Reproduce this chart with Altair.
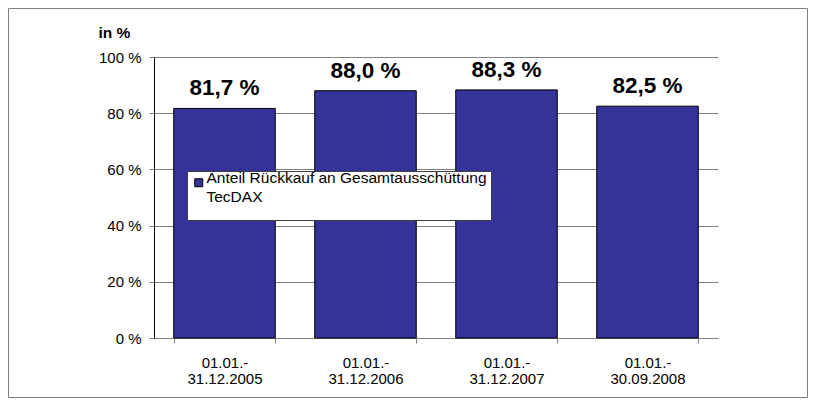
import altair as alt
import pandas as pd

# ---- data ----
period_start = ["01.01.-", "01.01.-", "01.01.-", "01.01.-"]
period_end = ["31.12.2005", "31.12.2006", "31.12.2007", "30.09.2008"]
shares = [81.7, 88.0, 88.3, 82.5]
series_name = "Anteil Rückkauf an Gesamtausschüttung|TecDAX"
y_ticks = [0, 20, 40, 60, 80, 100]

df = pd.DataFrame({
    "period": [f"{a}|{b}" for a, b in zip(period_start, period_end)],
    "share": shares,
    "series": [series_name] * len(shares),
})

FONT = "Liberation Sans"
GRAY = "#808080"
BAR = "#333399"

x = alt.X(
    "period:N", sort=None, title=None,
    scale=alt.Scale(paddingInner=0.28, paddingOuter=0.14),
    axis=alt.Axis(
        labelExpr="split(datum.label, '|')", labelAngle=0, labelFont=FONT,
        labelFontSize=15, labelColor="black", labelLineHeight=16,
        labelPadding=12, labelBaseline="top", tickBand="extent",
        tickSize=5, tickColor=GRAY, domainColor=GRAY, grid=False,
    ),
)
y = alt.Y(
    "share:Q",
    scale=alt.Scale(domain=[0, 100], nice=False),
    axis=alt.Axis(
        values=y_ticks, labelExpr="datum.value + ' %'", title="in %",
        titleAngle=0, titleAlign="left", titleBaseline="alphabetic",
        titleX=-56, titleY=-20, titleFont=FONT, titleFontSize=15.5,
        titleFontWeight="bold", titleColor="black",
        labelFont=FONT, labelFontSize=15, labelColor="black", labelPadding=8,
        tickSize=5, tickColor=GRAY, domainColor="black",
        gridColor=GRAY, gridOpacity=1, gridWidth=1,
    ),
)

bars = alt.Chart(df).mark_bar(stroke="black", strokeWidth=1).encode(
    x=x, y=y,
    color=alt.Color(
        "series:N",
        scale=alt.Scale(range=[BAR]),
        legend=alt.Legend(
            title="\u00a0", titleOrient="bottom", titleFontSize=9,
            titlePadding=2,
            orient="none", legendX=33, legendY=114,
            labelExpr="split(datum.label, '|')", labelFont=FONT,
            labelFontSize=15.5, labelBaseline="alphabetic",
            labelLimit=400, labelColor="black", symbolType="square",
            symbolSize=64, symbolStrokeColor="black", symbolStrokeWidth=1,
            symbolFillColor=BAR, fillColor="white", strokeColor="#404040",
            padding=4, labelOffset=0,
        ),
    ),
)

labels = alt.Chart(df).transform_calculate(
    label="replace(format(datum.share, '.1f'), '.', ',') + ' %'"
).mark_text(
    font=FONT, fontSize=22.5, fontWeight="bold", dy=-13,
    baseline="alphabetic", color="black",
).encode(x=x, y=y, text="label:N")

frame = alt.Chart(pd.DataFrame({"f": [0]})).mark_rect(
    filled=False, stroke=GRAY, strokeWidth=1
).encode(
    x=alt.value(-145.5), x2=alt.value(653.5),
    y=alt.value(-48.5), y2=alt.value(340.5),
)

chart = alt.layer(frame, bars, labels).properties(
    width=564, height=281,
    padding={"left": 146, "top": 49, "right": 90, "bottom": 60},
    autosize=alt.AutoSizeParams(type="none"),
    background="white",
).configure(
    style={"guide-label": {"lineHeight": 19}}
).configure_view(stroke=None)

chart.save("out.html", embed_options={"renderer": "svg", "actions": False})
